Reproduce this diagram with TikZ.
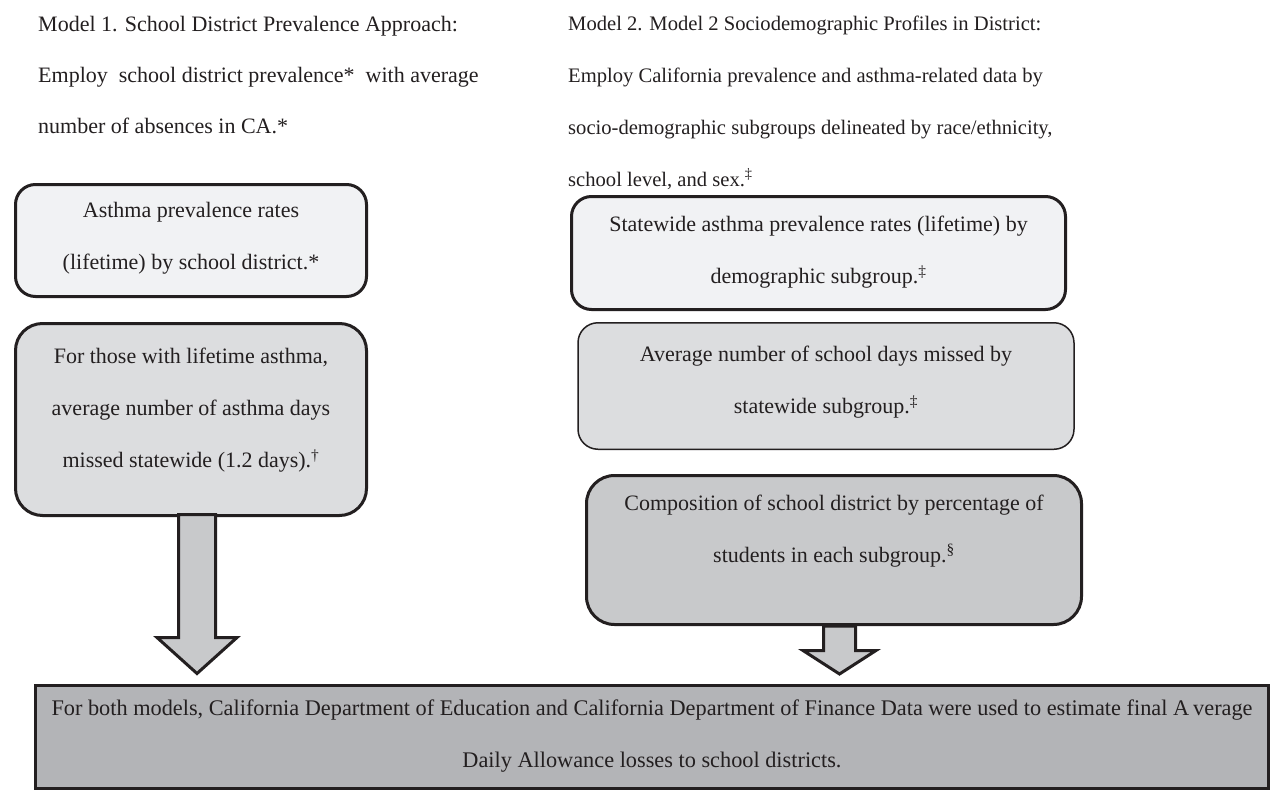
\documentclass[tikz,border=0pt]{standalone}
\usepackage{fontspec}
\setmainfont{Liberation Serif}
\usetikzlibrary{calc}
\definecolor{ink}{HTML}{231F20}
\definecolor{fillA}{HTML}{F1F2F4}
\definecolor{fillB}{HTML}{DCDDDF}
\definecolor{fillE}{HTML}{C8C9CB}
\definecolor{fillF}{HTML}{B3B4B7}
\newcommand{\boxtext}[2]{\raisebox{#1}[0pt][0pt]{\begin{tabular}{@{}c@{}}#2\end{tabular}}}
\newcommand{\titletext}[1]{\begin{tabular}[t]{@{}l@{}}#1\end{tabular}}
\tikzset{
  txt/.style={font=\fontsize{22}{52}\selectfont, text=ink},
  titleblock/.style={anchor=base west, inner sep=0pt, text=ink},
  flowbox/.style={draw=ink, line width=3pt, rounded corners=20pt, inner sep=0pt, txt},
  blockarrow/.style={draw=ink, fill=fillE, line width=3pt, line join=miter, miter limit=10}
}
\begin{document}
\begin{tikzpicture}[x=1pt,y=-1pt]
\useasboundingbox (0,0) rectangle (1270,790);
\fill[white] (0,0) rectangle (1270,790);

\node[titleblock, font=\fontsize{22}{51}\selectfont] (t1) at (38,31.5) {\titletext{Model 1. School District Prevalence Approach:\\Employ\ \ school district prevalence*\ \ with average\\number of absences in CA.*}};
\node[titleblock, font=\fontsize{20.6}{52}\selectfont] (t2) at (568,30) {\titletext{Model 2. Model 2 Sociodemographic Profiles in District:\\Employ California prevalence and asthma-related data by\\socio-demographic subgroups delineated by race/ethnicity,\\school level, and sex.\textsuperscript{‡}}};

\node[flowbox, fill=fillA, minimum width=351pt, minimum height=112pt] (A) at (191,240.5)
  {\boxtext{2pt}{Asthma prevalence rates\\(lifetime) by school district.*}};
\node[flowbox, fill=fillB, rounded corners=27pt, minimum width=351pt, minimum height=192pt] (B) at (191,419.5)
  {\boxtext{9pt}{For those with lifetime asthma,\\average number of asthma days\\missed statewide (1.2 days).\textsuperscript{†}}};

\node[flowbox, fill=fillA, minimum width=494pt, minimum height=113pt] (C) at (818.5,253)
  {\boxtext{0.5pt}{Statewide asthma prevalence rates (lifetime) by\\demographic subgroup.\textsuperscript{‡}}};
\node[flowbox, fill=fillB, line width=1.5pt, minimum width=496pt, minimum height=126.5pt] (D) at (826,386)
  {\boxtext{3.5pt}{Average number of school days missed by\\statewide subgroup.\textsuperscript{‡}}};
\node[flowbox, fill=fillE, rounded corners=28pt, minimum width=495pt, minimum height=149pt] (E) at (834,550)
  {\boxtext{19pt}{Composition of school district by percentage of\\students in each subgroup.\textsuperscript{§}}};

\node[flowbox, fill=fillF, rounded corners=0pt, minimum width=1233pt, minimum height=103pt, font=\fontsize{22.3}{52}\selectfont] (F) at (652,737)
  {\boxtext{1pt}{For both models, California Department of Education and California Department of Finance Data were used to estimate final A\kern4pt verage\\Daily Allowance losses to school districts.}};

% block arrows
\coordinate (a1) at ([xshift=6pt,yshift=2.5pt]B.south);
\coordinate (a1t) at ($(a1 |- F.north)+(0,-10.5)$);
\draw[blockarrow] ($(a1)+(-18.5,0)$) -- ($(a1)+(18.5,0)$) -- ($(a1t)+(18.5,-36)$) -- ($(a1t)+(40,-36)$)
  -- (a1t) -- ($(a1t)+(-40,-36)$) -- ($(a1t)+(-18.5,-36)$) -- cycle;

\coordinate (a2) at ([xshift=5.5pt]E.south);
\coordinate (a2t) at ($(a2 |- F.north)+(0,-10)$);
\draw[blockarrow] ($(a2)+(-16,0)$) -- ($(a2)+(16,0)$) -- ($(a2t)+(16,-23.5)$) -- ($(a2t)+(36.5,-23.5)$)
  -- (a2t) -- ($(a2t)+(-36.5,-23.5)$) -- ($(a2t)+(-16,-23.5)$) -- cycle;
\end{tikzpicture}
\end{document}
